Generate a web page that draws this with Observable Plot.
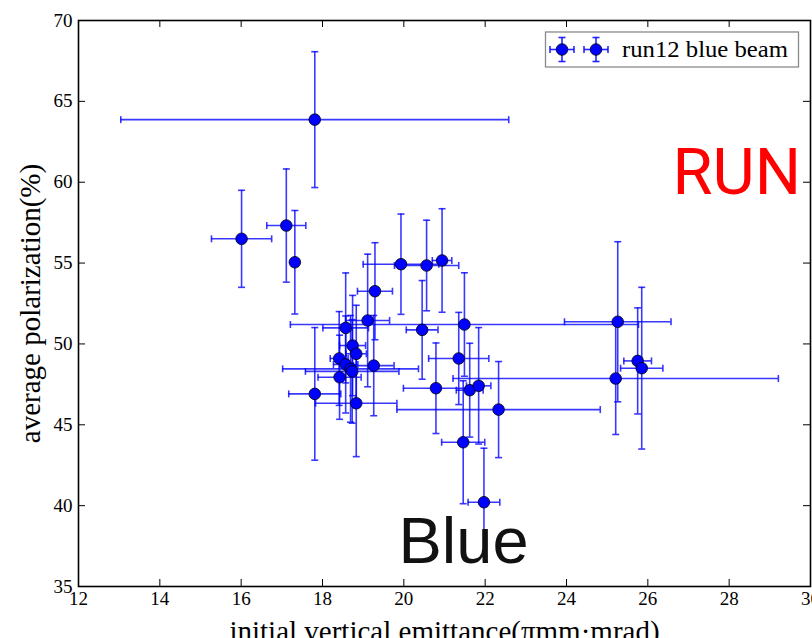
<!DOCTYPE html>
<html>
<head>
<meta charset="utf-8">
<script src="https://cdn.jsdelivr.net/npm/d3@7"></script>
<script src="https://cdn.jsdelivr.net/npm/@observablehq/plot@0.6"></script>
<style>
  html, body { margin: 0; padding: 0; background: #fff; overflow: hidden; }
  #chart svg { display: block; }
</style>
</head>
<body>
<div id="chart"></div>
<script>
// ---- data ----
const emittance = [17.81, 16.01, 17.11, 17.32, 19.93, 20.56, 20.94, 19.29, 19.11, 18.57, 20.45,
  21.49, 18.74, 18.83, 18.41, 18.57, 18.69, 18.73, 18.42, 19.26, 17.81, 18.83, 20.79, 21.35,
  21.62, 21.84, 22.33, 21.46, 21.97, 25.26, 25.21, 25.75, 25.85];
const polarization = [63.87, 56.50, 57.32, 55.05, 54.93, 54.85, 55.16, 53.26, 51.45, 50.99, 50.87,
  51.20, 49.90, 49.39, 49.10, 48.73, 48.46, 48.30, 47.94, 48.66, 46.91, 46.33, 47.26, 49.10,
  47.14, 47.41, 45.94, 43.92, 40.21, 51.37, 47.86, 48.95, 48.50];
const emittanceErr = [4.77, 0.74, 0.48, 0.05, 0.93, 0.79, 0.24, 0.43, 0.54, 0.56, 0.39,
  4.28, 0.32, 0.25, 0.22, 0.30, 1.67, 1.15, 0.53, 0.50, 0.64, 1.00, 0.80, 0.74,
  0.33, 0.30, 2.50, 0.53, 0.39, 1.31, 4.00, 0.34, 0.52];
const polarizationErr = [4.2, 3.0, 3.5, 3.2, 3.1, 2.8, 3.2, 3.0, 4.1, 3.4, 3.05,
  3.2, 3.1, 3.0, 2.9, 3.0, 3.3, 3.2, 2.6, 3.1, 4.1, 3.3, 2.8, 2.85,
  2.9, 3.6, 2.97, 3.8, 3.34, 4.95, 3.46, 3.28, 5.0];
const xTicks = [12, 14, 16, 18, 20, 22, 24, 26, 28, 30];
const yTicks = [35, 40, 45, 50, 55, 60, 65, 70];
const xLabel = "initial vertical emittance(πmm·mrad)";
const yLabel = "average polarization(%)";
const legendLabel = "run12 blue beam";
const annotRun = ["RUN"];
const annotBlue = ["Blue"];

const data = emittance.map((x, i) => ({x, y: polarization[i], xe: emittanceErr[i], ye: polarizationErr[i]}));

// ---- style ----
const W = 812, H = 638;
const M = {top: 20, right: 2, bottom: 52, left: 78};
const innerW = W - M.left - M.right, innerH = H - M.top - M.bottom;
const BLUE = "#0000ff";
const BAR = {stroke: BLUE, strokeWidth: 1.6, strokeOpacity: 0.78};
const SERIF = "'Liberation Serif', 'DejaVu Serif', serif";
const TICK = 7;

const hcap = {draw(ctx, size) { const r = Math.sqrt(size / Math.PI); ctx.moveTo(-r, 0); ctx.lineTo(r, 0); }};
const vcap = {draw(ctx, size) { const r = Math.sqrt(size / Math.PI); ctx.moveTo(0, -r); ctx.lineTo(0, r); }};

const plot = Plot.plot({
  width: W, height: H,
  marginTop: M.top, marginRight: M.right, marginBottom: M.bottom, marginLeft: M.left,
  style: {background: "#fff", color: "#000", overflow: "visible"},
  x: {domain: [12, 30]},
  y: {domain: [35, 70]},
  marks: [
    // error bars
    Plot.ruleY(data, {y: "y", x1: d => d.x - d.xe, x2: d => d.x + d.xe, ...BAR}),
    Plot.ruleX(data, {x: "x", y1: d => d.y - d.ye, y2: d => d.y + d.ye, ...BAR}),
    Plot.dot(data, {x: d => d.x - d.xe, y: "y", symbol: vcap, r: 3.5, fill: "none", ...BAR}),
    Plot.dot(data, {x: d => d.x + d.xe, y: "y", symbol: vcap, r: 3.5, fill: "none", ...BAR}),
    Plot.dot(data, {x: "x", y: d => d.y - d.ye, symbol: hcap, r: 3.5, fill: "none", ...BAR}),
    Plot.dot(data, {x: "x", y: d => d.y + d.ye, symbol: hcap, r: 3.5, fill: "none", ...BAR}),
    // markers
    Plot.dot(data, {x: "x", y: "y", r: 5.8, fill: BLUE, stroke: "#000", strokeWidth: 0.8}),
    // inward ticks on all four sides
    Plot.tickX(xTicks, {x: d => d, insetTop: innerH - TICK, stroke: "#000", strokeWidth: 1}),
    Plot.tickX(xTicks, {x: d => d, insetBottom: innerH - TICK, stroke: "#000", strokeWidth: 1}),
    Plot.tickY(yTicks, {y: d => d, insetRight: innerW - TICK, stroke: "#000", strokeWidth: 1}),
    Plot.tickY(yTicks, {y: d => d, insetLeft: innerW - TICK, stroke: "#000", strokeWidth: 1}),
    Plot.frame({stroke: "#000", strokeWidth: 1.6}),
    // tick labels
    Plot.axisX(xTicks, {tickSize: 0, tickPadding: 5, fontSize: 19, fontFamily: SERIF, label: null}),
    Plot.axisY(yTicks, {tickSize: 0, tickPadding: 6, fontSize: 19, fontFamily: SERIF, label: null}),
    // axis titles
    Plot.text([xLabel], {frameAnchor: "bottom", dy: 54, textAnchor: "middle", fontSize: 29, fontFamily: SERIF, fill: "#000"}),
    Plot.text([yLabel], {frameAnchor: "left", dx: -48, textAnchor: "middle", rotate: -90, fontSize: 29, fontFamily: SERIF, fill: "#000"}),
    // slide annotations
    Plot.text(annotRun, {frameAnchor: "top-left", dx: 594, dy: 173, textAnchor: "start", lineAnchor: "bottom",
      fontSize: 65, fontFamily: "Roboto, 'Open Sans', sans-serif", fill: "#ff0000"}),
    Plot.text(annotBlue, {frameAnchor: "top-left", dx: 320, dy: 542, textAnchor: "start", lineAnchor: "bottom",
      fontSize: 65, fontFamily: "'Liberation Sans', Arial, sans-serif", fill: "#111"})
  ]
});

// ---- legend (inside the axes, upper right) ----
const svg = d3.select(plot);
const lg = svg.append("g").attr("class", "legend").attr("text-anchor", "start");
lg.append("rect").attr("x", 545.5).attr("y", 32).attr("width", 253).attr("height", 35)
  .attr("fill", "#fff").attr("stroke", "#8a8a8a").attr("stroke-width", 1.3);
[562, 596].forEach(cx => {
  const cy = 49.5, a = 12, c = 3.5;
  const g = lg.append("g").attr("stroke", BLUE).attr("stroke-width", 1.6).attr("stroke-opacity", 0.85);
  g.append("line").attr("x1", cx - a).attr("x2", cx + a).attr("y1", cy).attr("y2", cy);
  g.append("line").attr("x1", cx).attr("x2", cx).attr("y1", cy - a).attr("y2", cy + a);
  g.append("line").attr("x1", cx - a).attr("x2", cx - a).attr("y1", cy - c).attr("y2", cy + c);
  g.append("line").attr("x1", cx + a).attr("x2", cx + a).attr("y1", cy - c).attr("y2", cy + c);
  g.append("line").attr("x1", cx - c).attr("x2", cx + c).attr("y1", cy - a).attr("y2", cy - a);
  g.append("line").attr("x1", cx - c).attr("x2", cx + c).attr("y1", cy + a).attr("y2", cy + a);
  lg.append("circle").attr("cx", cx).attr("cy", cy).attr("r", 5.8)
    .attr("fill", BLUE).attr("stroke", "#000").attr("stroke-width", 0.8);
});
lg.append("text").attr("x", 622).attr("y", 56.5).text(legendLabel)
  .attr("text-anchor", "start")
  .attr("font-family", SERIF).attr("font-size", 23).attr("fill", "#000")
  .attr("textLength", 166).attr("lengthAdjust", "spacingAndGlyphs");

document.getElementById("chart").append(plot);
</script>
</body>
</html>
